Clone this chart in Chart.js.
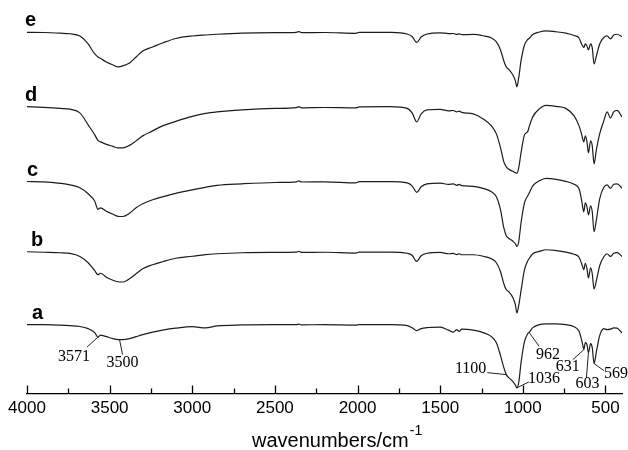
<!DOCTYPE html>
<html>
<head>
<meta charset="utf-8">
<title>FTIR spectra a-e</title>
<script src="https://cdn.jsdelivr.net/npm/chart.js"></script>
<style>
  html, body { margin: 0; padding: 0; background: #fff; }
  #wrap { width: 628px; height: 450px; position: relative; }
</style>
</head>
<body>
<div id="wrap"><canvas id="irChart"></canvas></div>
<script>
// wavenumber grid (cm-1), shared by all five spectra
const wavenumbers = [4000, 3900, 3800, 3740, 3680, 3630, 3590, 3571, 3555, 3520,
  3480, 3450, 3420, 3380, 3340, 3300, 3240, 3180, 3100, 3000,
  2920, 2850, 2700, 2500, 2370, 2355, 2340, 2200, 2010, 1990,
  1800, 1700, 1670, 1642, 1615, 1580, 1500, 1450, 1420, 1400,
  1385, 1370, 1300, 1240, 1190, 1160, 1135, 1115, 1100, 1085,
  1060, 1045, 1036, 1025, 1010, 990, 970, 962, 940, 900,
  860, 800, 740, 690, 660, 645, 638, 631, 622, 612,
  603, 590, 580, 569, 555, 535, 510, 490, 470, 450,
  430, 400];

// offset transmittance (a.u.)
const spectrumA = [69, 69, 68.5, 68, 67.2, 65, 61, 56.5, 58.5, 57,
  55, 54, 54, 55, 57, 59, 61.5, 63.5, 65.5, 67,
  65.7, 67.7, 68.7, 69, 69, 69.5, 68.8, 69, 68.5, 69,
  69, 68, 66, 63, 65, 66, 66.5, 63.5, 61.5, 64,
  62.3, 64.5, 63.5, 61, 57, 51, 38, 26, 19, 16,
  12, 8.5, 5.7, 11, 32, 52, 60, 61.3, 66, 69,
  69.7, 69.7, 69, 67, 62.5, 54, 49, 44, 51, 49,
  41, 50, 46, 30, 42, 58, 65, 64, 64.5, 65.7,
  65.5, 60.7];
const spectrumB = [142, 141.5, 141, 140.3, 137.3, 131, 123, 119, 120.5, 116.5,
  113.5, 112, 111.7, 115, 120, 125, 129, 132, 135.5, 137.5,
  139.2, 140, 141, 141.3, 141.6, 142.5, 141.3, 141.5, 140.7, 141.7,
  141.7, 140.5, 138.5, 132.3, 138, 140.5, 141.3, 140, 140.4, 139.2,
  140, 139, 139, 137.5, 135, 131, 122, 110, 104, 102,
  96, 89, 80.7, 88, 104, 124, 133, 135, 140, 142.3,
  144, 143.2, 141.7, 139.5, 136.5, 130.5, 127, 124, 130.5, 125,
  115.7, 126, 120, 104.7, 113, 128, 137, 140, 137.3, 140.5,
  141.2, 137.3];
const spectrumC = [212.3, 212, 210.5, 209, 206, 200, 192.5, 184.5, 186, 182.5,
  179.5, 177.5, 177.3, 180.5, 186, 190, 194, 197, 200.5, 204,
  206.5, 208.5, 210, 211.3, 212, 213, 211.8, 212, 211, 212.2,
  212.2, 211, 208, 201.5, 207, 210, 210.7, 209.5, 210, 208.5,
  209.4, 208.2, 207.5, 205.5, 202, 197, 184, 166, 158, 155.5,
  152.5, 150, 147.3, 152, 172, 191, 198, 200.5, 208, 213,
  215.5, 214.5, 212.5, 209.5, 205, 194, 187, 182, 191, 187,
  179, 188, 182, 162, 174, 195, 206.5, 209, 205.5, 209.5,
  210, 205.5];
const spectrumD = [287.3, 286.5, 285.5, 284.7, 281, 269, 259, 253.5, 252, 249.5,
  247.5, 246, 246, 248.5, 253, 258, 263, 268, 272.5, 277.5,
  280.5, 282, 284, 285.5, 286.3, 287.2, 286.1, 286.4, 286, 287,
  287.2, 285.5, 281, 272, 280, 284, 284.5, 283, 283.4, 282,
  282.7, 281.5, 280, 275, 268, 260, 246, 232, 227, 224.5,
  222.5, 221, 220.5, 226, 242, 259, 262.5, 267, 277, 285,
  288.5, 287.5, 285.5, 278, 268, 260, 255, 252, 258, 252,
  241, 253, 248, 230, 244, 260, 273, 282, 276, 282,
  283.5, 277];
const spectrumE = [361.7, 361.5, 360.8, 360.2, 358, 350, 340, 337, 335.5, 332,
  329, 327, 328, 331, 337, 343, 347, 351, 355.5, 358,
  359, 359.7, 360.8, 361.3, 361.7, 362.4, 361.4, 361.5, 360.7, 361.7,
  361.6, 360, 357.5, 351.5, 357, 360, 361.2, 360.4, 360.5, 359.5,
  360.2, 359.4, 359.5, 358.2, 356, 352, 344, 333, 327, 324.5,
  319, 313, 307, 316, 334, 349, 354.5, 355.5, 359.5, 362,
  363.2, 362.2, 360.8, 358.5, 356, 350, 348, 346.5, 350, 348,
  344, 350, 346, 330, 338, 350, 356.5, 358, 355, 359,
  359.7, 357.3];

const curveNames = ['a', 'b', 'c', 'd', 'e'];
const tickValues = [4000, 3500, 3000, 2500, 2000, 1500, 1000, 500];
const minorTickValues = [3750, 3250, 2750, 2250, 1750, 1250, 750];
// band assignments marked on spectrum a
const peakLabels = ['3571', '3500', '1100', '1036', '962', '631', '603', '569'];
const peakAnchors = [3571, 3440, 1100, 1036, 962, 631, 603, 569];

const allSpectra = [spectrumA, spectrumB, spectrumC, spectrumD, spectrumE];

function valueAt(series, wn) {
  for (let i = 0; i < wavenumbers.length - 1; i++) {
    const w0 = wavenumbers[i], w1 = wavenumbers[i + 1];
    if (wn <= w0 && wn >= w1) {
      const t = (w0 - wn) / (w0 - w1);
      return series[i] + t * (series[i + 1] - series[i]);
    }
  }
  return series[series.length - 1];
}

// pixel offsets of leader ends and label text, relative to the marked band
const peakLayout = [
  { lx: -11, ly: 10, tx: -24, ty: 20, align: 'center' },
  { lx: 3, ly: 15, tx: 3, ty: 23, align: 'center' },
  { lx: -19, ly: -2, tx: -20, ty: -6, align: 'right' },
  { lx: 12, ly: -6, tx: 11, ty: -9, align: 'left' },
  { lx: 10, ly: 14, tx: 7, ty: 22, align: 'left' },
  { lx: -11, ly: 10, tx: -4, ty: 17, align: 'right' },
  { lx: -2, ly: 25, tx: -1, ty: 31, align: 'center' },
  { lx: 10, ly: 7, tx: 10, ty: 10, align: 'left' }
];
const nameOffsets = [5, 4, 0, -2, -2];

const decorPlugin = {
  id: 'decor',
  afterDraw(chart) {
    const { ctx, chartArea, scales } = chart;
    const x = scales.x, y = scales.y;
    const base = chartArea.bottom;
    ctx.save();
    ctx.strokeStyle = '#000';
    ctx.lineWidth = 1.3;
    ctx.beginPath();
    tickValues.forEach(v => {
      const px = Math.round(x.getPixelForValue(v)) + 0.5;
      ctx.moveTo(px, base);
      ctx.lineTo(px, base - 8);
    });
    minorTickValues.forEach(v => {
      const px = Math.round(x.getPixelForValue(v)) + 0.5;
      ctx.moveTo(px, base);
      ctx.lineTo(px, base - 5);
    });
    ctx.stroke();

    // curve names
    ctx.fillStyle = '#000';
    ctx.font = 'bold 20px "Liberation Sans", Arial, sans-serif';
    ctx.textAlign = 'left';
    ctx.textBaseline = 'alphabetic';
    curveNames.forEach((name, i) => {
      const yy = y.getPixelForValue(allSpectra[i][0]) - 6;
      ctx.fillText(name, chartArea.left + nameOffsets[i], yy);
    });

    // band labels on spectrum a
    ctx.font = '16px "Liberation Serif", "Times New Roman", serif';
    ctx.textBaseline = 'middle';
    ctx.lineWidth = 1;
    ctx.strokeStyle = '#222';
    peakLabels.forEach((txt, i) => {
      const wn = peakAnchors[i];
      const px = x.getPixelForValue(wn);
      const py = y.getPixelForValue(valueAt(spectrumA, wn));
      const L = peakLayout[i];
      ctx.beginPath();
      ctx.moveTo(px, py);
      ctx.lineTo(px + L.lx, py + L.ly);
      ctx.stroke();
      ctx.textAlign = L.align;
      ctx.fillText(txt, px + L.tx, py + L.ty);
    });

    // axis title with superscript
    const main = 'wavenumbers/cm';
    ctx.font = '20px "Liberation Sans", Arial, sans-serif';
    ctx.textAlign = 'left';
    ctx.textBaseline = 'alphabetic';
    const tx = chartArea.left + 225;
    ctx.fillText(main, tx, 447);
    const w = ctx.measureText(main).width;
    ctx.font = '14px "Liberation Sans", Arial, sans-serif';
    ctx.fillText('-1', tx + w + 1, 435);
    ctx.restore();
  }
};

const datasets = allSpectra.map((s, i) => ({
  label: curveNames[i],
  data: wavenumbers.map((wn, k) => ({ x: wn, y: s[k] })),
  borderColor: '#1c1c1c',
  borderWidth: 1.2,
  pointRadius: 0,
  cubicInterpolationMode: 'monotone',
  fill: false
}));

new Chart(document.getElementById('irChart'), {
  type: 'line',
  data: { datasets: datasets },
  options: {
    responsive: true,
    maintainAspectRatio: false,
    animation: false,
    devicePixelRatio: 1,
    layout: { padding: { left: 27, right: 6, top: 10, bottom: 26 } },
    plugins: { legend: { display: false }, tooltip: { enabled: false } },
    scales: {
      x: {
        type: 'linear',
        reverse: true,
        min: 400,
        max: 4000,
        afterBuildTicks: axis => { axis.ticks = tickValues.map(v => ({ value: v })); },
        grid: { display: false, drawTicks: false },
        border: { display: true, color: '#000', width: 1.3 },
        ticks: {
          autoSkip: false,
          maxRotation: 0,
          padding: 5,
          color: '#000',
          callback: v => String(v),
          font: { family: '"Liberation Sans", Arial, sans-serif', size: 17 }
        }
      },
      y: { display: false, min: 0, max: 384 }
    }
  },
  plugins: [decorPlugin]
});
</script>
</body>
</html>
